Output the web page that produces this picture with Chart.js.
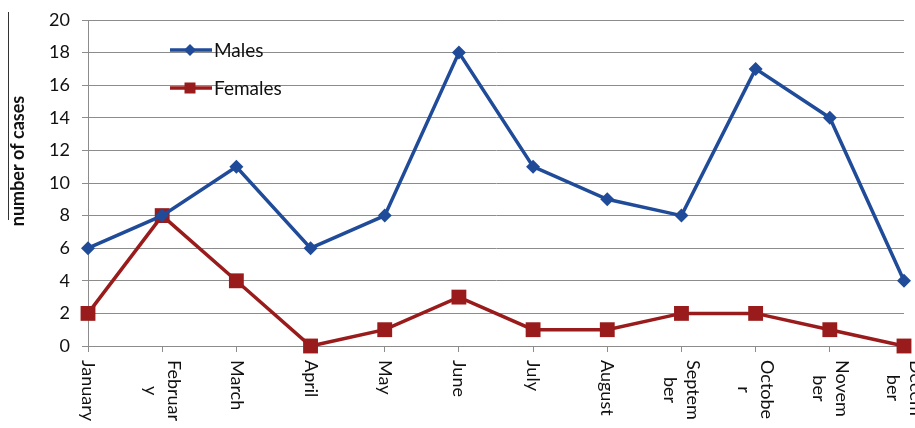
<!DOCTYPE html>
<html>
<head>
<meta charset="utf-8">
<script src="https://cdn.jsdelivr.net/npm/chart.js@4.4.0/dist/chart.umd.min.js"></script>
<style>
	html, body { margin: 0; padding: 0; background: #fff; }
	canvas { display: block; }
</style>
</head>
<body>
<canvas id="chartCases" width="915" height="428"></canvas>
<script>
'use strict'

// month labels as they wrap in the original (rotated, split lines)
const monthLabels = [
	['January'], ['Februar', 'y'], ['March'], ['April'], ['May'], ['June'],
	['July'], ['August'], ['Septem', 'ber'], ['Octobe', 'r'], ['Novem', 'ber'], ['Decem', 'ber']
];
const males = [6, 8, 11, 6, 8, 18, 11, 9, 8, 17, 14, 4];
const females = [2, 8, 4, 0, 1, 3, 1, 1, 2, 2, 1, 0];
const yTicks = [0, 2, 4, 6, 8, 10, 12, 14, 16, 18, 20];

const colors = {
	blue: '#1F4B99',
	red: '#991B1B',
	grid: '#8c8c8c',
	text: '#111',
};
const fontFamily = 'Lato, "Liberation Sans", sans-serif';

function drawMarker(ctx, style, x, y, size, color) {
	ctx.fillStyle = color;
	ctx.beginPath();
	if (style === 'rectRot') {
		ctx.moveTo(x, y - size);
		ctx.lineTo(x + size, y);
		ctx.lineTo(x, y + size);
		ctx.lineTo(x - size, y);
		ctx.closePath();
	} else {
		ctx.rect(x - size, y - size, size * 2, size * 2);
	}
	ctx.fill();
}

const overlay = {
	id: 'overlay',
	afterDraw(chart) {
		const { ctx, chartArea, scales: { x, y } } = chart;
		ctx.save();

		// x labels, rotated clockwise
		ctx.font = '18px ' + fontFamily;
		ctx.fillStyle = colors.text;
		ctx.textAlign = 'center';
		ctx.textBaseline = 'middle';
		monthLabels.forEach((lines, i) => {
			const px = x.getPixelForValue(i);
			const w = Math.max(...lines.map(l => ctx.measureText(l).width));
			ctx.save();
			ctx.translate(px, y.bottom + 14 + w / 2);
			ctx.rotate(Math.PI / 2);
			lines.forEach((l, j) => ctx.fillText(l, 0, (j - (lines.length - 1) / 2) * 23));
			ctx.restore();
		});

		// y title
		ctx.save();
		ctx.font = 'bold 18px ' + fontFamily;
		ctx.translate(18, 161);
		ctx.rotate(-Math.PI / 2);
		ctx.fillText('number of cases', 0, 0);
		ctx.restore();

		ctx.strokeStyle = '#333';
		ctx.lineWidth = 1;
		ctx.beginPath();
		ctx.moveTo(8.5, 12);
		ctx.lineTo(8.5, 220);
		ctx.stroke();

		// legend inside plot
		chart.data.datasets.forEach((ds, i) => {
			const ly = chartArea.top + 30 + i * 38;
			const lx = chartArea.left + 82;
			ctx.strokeStyle = ds.borderColor;
			ctx.lineWidth = 3.5;
			ctx.beginPath();
			ctx.moveTo(lx, ly);
			ctx.lineTo(lx + 42, ly);
			ctx.stroke();
			drawMarker(ctx, ds.pointStyle, lx + 20, ly, ds.pointStyle === 'rectRot' ? 6 : 5.5, ds.borderColor);
			ctx.fillStyle = colors.text;
			ctx.textAlign = 'left';
			ctx.font = '19px ' + fontFamily;
			ctx.fillText(ds.label, lx + 44, ly + 1);
		});

		ctx.restore();
	},
};

new Chart(document.getElementById('chartCases'), {
	type: 'line',
	data: {
		labels: monthLabels.map(l => l.join('')),
		datasets: [
			{
				label: 'Males',
				data: males,
				borderColor: colors.blue,
				backgroundColor: colors.blue,
				borderWidth: 3.5,
				pointStyle: 'rectRot',
				pointRadius: 7,
				pointBorderWidth: 0,
				tension: 0,
				clip: false,
			},
			{
				label: 'Females',
				data: females,
				borderColor: colors.red,
				backgroundColor: colors.red,
				borderWidth: 3.5,
				pointStyle: 'rect',
				pointRadius: 10.5,
				pointBorderWidth: 0,
				tension: 0,
				clip: false,
			},
		],
	},
	options: {
		responsive: false,
		animation: false,
		events: [],
		layout: {
			padding: { top: 20, right: 11, left: 0, bottom: 0 },
		},
		plugins: {
			legend: { display: false },
			tooltip: { enabled: false },
		},
		scales: {
			x: {
				offset: false,
				afterFit(scale) { scale.height = 82; },
				grid: {
					drawOnChartArea: false,
					tickLength: 6,
					color: colors.grid,
				},
				border: { color: colors.grid },
				ticks: { display: false },
			},
			y: {
				min: 0,
				max: 20,
				afterFit(scale) { scale.width = 88; },
				afterBuildTicks(scale) { scale.ticks = yTicks.map(v => ({ value: v })); },
				grid: {
					tickLength: 6,
					color: colors.grid,
				},
				border: { color: colors.grid },
				ticks: {
					padding: 12,
					color: colors.text,
					font: { family: fontFamily, size: 18, lineHeight: 0.5 },
				},
			},
		},
	},
	plugins: [overlay],
});
</script>
</body>
</html>
